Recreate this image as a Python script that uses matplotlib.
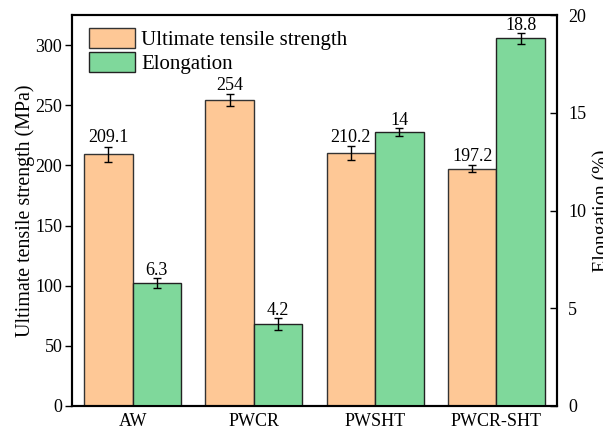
import numpy as np
import matplotlib.pyplot as plt

plt.rcParams["font.family"]=["Liberation Serif","DejaVu Serif"]

samples=["AW","PWCR","PWSHT","PWCR-SHT"]
uts=[209.1,254,210.2,197.2]
uts_err=[6.2,5.0,5.5,3.0]
elong=[6.3,4.2,14,18.8]
elong_err=[0.25,0.3,0.2,0.3]
uts_labels=["209.1","254","210.2","197.2"]
elong_labels=["6.3","4.2","14","18.8"]

fig=plt.figure(figsize=(6.03,4.3),dpi=100)
ax=fig.add_axes([72/603,(430-406)/430,485/603,391/430])
ax2=ax.twinx()

x=np.arange(len(samples))
w=0.4

b1=ax.bar(
    x-w/2,
    uts,
    w,
    yerr=uts_err,
    color="#FEC896",
    edgecolor="#333333",
    linewidth=1,
    capsize=3,
    error_kw=dict(elinewidth=1,capthick=1),
    label="Ultimate tensile strength"
)

b2=ax2.bar(
    x+w/2,
    elong,
    w,
    yerr=elong_err,
    color="#7FD89B",
    edgecolor="#222222",
    linewidth=1,
    capsize=3,
    error_kw=dict(elinewidth=1,capthick=1),
    label="Elongation"
)

for xi,v,e,t in zip(x,uts,uts_err,uts_labels):
    ax.text(xi-w/2,v+e+0.5,t,ha="center",va="bottom",fontsize=13)

for xi,v,e,t in zip(x,elong,elong_err,elong_labels):
    ax2.text(xi+w/2,v+e-0.05,t,ha="center",va="bottom",fontsize=13)

ax.set_xlim(-0.5,3.5)
ax.set_ylim(0,325)
ax2.set_ylim(0,20)

ax.set_yticks([0,50,100,150,200,250,300])
ax2.set_yticks([0,5,10,15,20])

ax.set_xticks(x)
ax.set_xticklabels(samples)

ax.tick_params(axis="x",length=0,labelsize=13,pad=5)
ax.tick_params(axis="y",direction="out",length=5,width=1,labelsize=13,pad=2)
ax2.tick_params(axis="y",direction="in",length=5,width=1,labelsize=13,pad=8)

for a in (ax,ax2):
    for s in a.spines.values():
        s.set_linewidth(1.5)

ax.set_ylabel("Ultimate tensile strength (MPa)",fontsize=14.4,labelpad=0.5)
ax2.set_ylabel("Elongation (%)",fontsize=14.4,labelpad=4)

ax.legend(
    [b1,b2],
    ["Ultimate tensile strength","Elongation"],
    loc="upper left",
    frameon=False,
    fontsize=15,
    handlelength=2.2,
    handleheight=1.1,
    labelspacing=0.1,
    handletextpad=0.3,
    borderaxespad=0.2,
    bbox_to_anchor=(0.01,1.0)
)

fig.savefig("out.png",dpi=100)
